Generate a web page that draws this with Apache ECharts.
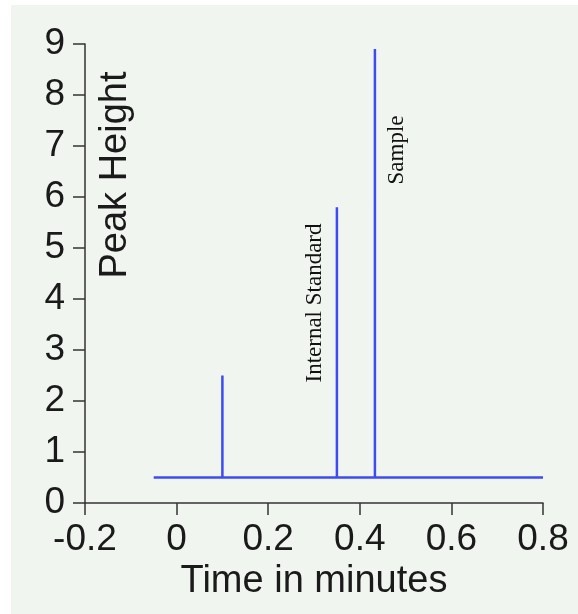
<!DOCTYPE html>
<html lang="en">

<head>
    <meta charset="UTF-8">
    <title>Peak Height</title>
    <script src="https://cdn.jsdelivr.net/npm/echarts/dist/echarts.min.js"></script>
    <style>
        body {
            margin: 0;
            background: #ffffff;
        }

        #chart {
            width: 578px;
            height: 614px;
        }
    </style>
</head>

<body>
    <div id="chart"></div>

    <script>
        // trace data
        const baselineLevel = 0.5;
        const traceStart = -0.05;
        const traceEnd = 0.8;
        const peakTimes = [0.1, 0.35, 0.433];
        const peakHeights = [2.5, 5.8, 8.9];
        const peakNames = ['', 'Internal Standard', 'Sample'];

        // axis ticks
        const xTicks = [-0.2, 0, 0.2, 0.4, 0.6, 0.8];
        const yTicks = [0, 1, 2, 3, 4, 5, 6, 7, 8, 9];

        // build the trace: flat baseline with a vertical spike at each peak
        const trace = [[traceStart, baselineLevel]];
        peakTimes.forEach((t, i) => {
            trace.push([t, baselineLevel], [t, peakHeights[i]], [t, baselineLevel]);
        });
        trace.push([traceEnd, baselineLevel]);

        const chart = echarts.init(document.getElementById('chart'));

        const sans = 'Liberation Sans, Arial, sans-serif';
        const panel = {
            type: 'rect',
            z: -10,
            silent: true,
            shape: { x: 11, y: 5, width: 567, height: 609 },
            style: { fill: '#f1f5f0' }
        };

        chart.setOption({
            backgroundColor: '#ffffff',
            animation: false,
            grid: { left: 85, right: 35, top: 44, bottom: 111 },
            graphic: [panel],
            xAxis: {
                type: 'value',
                min: xTicks[0],
                max: xTicks[xTicks.length - 1],
                interval: 0.2,
                name: 'Time in minutes',
                nameLocation: 'middle',
                nameGap: 54,
                nameTextStyle: { fontFamily: sans, fontSize: 38, color: '#1a1a1a' },
                axisLine: { onZero: false, lineStyle: { color: '#333', width: 1.5 } },
                axisTick: { length: 12, lineStyle: { color: '#333', width: 1.5 } },
                axisLabel: {
                    margin: 18,
                    fontFamily: sans,
                    fontSize: 37,
                    color: '#1a1a1a',
                    formatter: v => String(Math.round(v * 10) / 10)
                },
                splitLine: { show: false }
            },
            yAxis: {
                type: 'value',
                min: yTicks[0],
                max: yTicks[yTicks.length - 1],
                interval: 1,
                axisLine: { show: true, onZero: false, lineStyle: { color: '#333', width: 1.5 } },
                axisTick: { show: true, length: 12, lineStyle: { color: '#333', width: 1.5 } },
                axisLabel: { margin: 20, fontFamily: sans, fontSize: 37, color: '#1a1a1a' },
                splitLine: { show: false }
            },
            series: [{
                type: 'line',
                data: trace,
                showSymbol: false,
                lineStyle: { color: '#3d4bf2', width: 2.5 },
                z: 3
            }]
        });

        // peak annotations and the rotated y title, placed after the axes exist
        const annotations = [];
        peakTimes.forEach((t, i) => {
            if (!peakNames[i]) return;
            const [px] = chart.convertToPixel({ gridIndex: 0 }, [t, 0]);
            const left = i === 1;
            annotations.push({
                type: 'text',
                x: left ? px - 22 : px + 22,
                y: left ? 303 : 150,
                rotation: Math.PI / 2,
                style: {
                    text: peakNames[i],
                    font: '23px "Liberation Serif", "Times New Roman", serif',
                    fill: '#111',
                    align: 'center',
                    verticalAlign: 'middle'
                }
            });
        });
        annotations.push({
            type: 'text',
            x: 116,
            y: 175,
            rotation: Math.PI / 2,
            style: {
                text: 'Peak Height',
                font: '38px ' + sans,
                fill: '#1a1a1a',
                align: 'center',
                verticalAlign: 'middle'
            }
        });

        chart.setOption({ graphic: [panel].concat(annotations) });
    </script>
</body>

</html>
